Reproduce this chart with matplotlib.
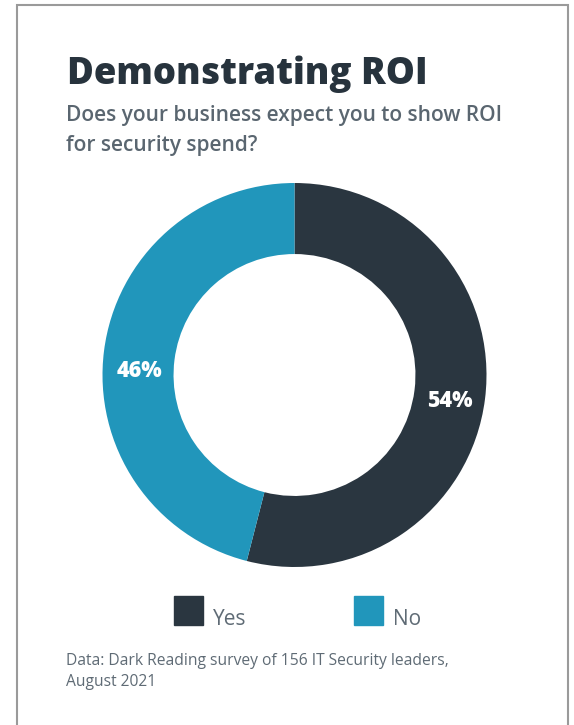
import matplotlib
matplotlib.use('Agg')
import matplotlib.pyplot as plt
from matplotlib.patches import Rectangle

labels = ['Yes', 'No']
values = [54, 46]
colors = ['#2a3640', '#2196bb']

title = 'Demonstrating ROI'
subtitle = ['Does your business expect you to show ROI', 'for security spend?']
source = ['Data: Dark Reading survey of 156 IT Security leaders,', 'August 2021']

plt.rcParams['font.family'] = ['Open Sans', 'DejaVu Sans']

W, H = 574, 725
fig = plt.figure(figsize=(W / 100, H / 100), dpi=100)

# frame, open at the bottom
fig.patches.append(Rectangle((17 / W, -0.05), 551 / W, 1.05 - 5 / H,
                             transform=fig.transFigure, fill=False,
                             edgecolor='#9a9a9a', lw=1.5))

fig.text(67 / W, 1 - 84 / H, title, fontsize=26.3, fontweight='heavy',
         color='#27333d', va='baseline')
for i, line in enumerate(subtitle):
    fig.text(66 / W, 1 - (121 + 30 * i) / H, line, fontsize=15,
             fontweight='semibold', color='#5a6670', va='baseline')
for i, line in enumerate(source):
    fig.text(66 / W, 1 - (665 + 21 * i) / H, line, fontsize=11.25,
             color='#5f6b75', va='baseline')

cx, cy, r = 294.5, 375, 192
ax = fig.add_axes([(cx - r) / W, 1 - (cy + r) / H, 2 * r / W, 2 * r / H])
wedges, texts, autotexts = ax.pie(
    values, colors=colors, startangle=90, counterclock=False,
    autopct='%d%%', pctdistance=0.815,
    wedgeprops=dict(width=0.37, edgecolor='none'),
    textprops=dict(color='white', fontsize=15.5, fontweight='heavy'))
# nudge labels a little lower, as in the original
autotexts[0].set_y(autotexts[0].get_position()[1] - 0.035)
autotexts[1].set_y(autotexts[1].get_position()[1] - 0.08)
ax.set_xlim(-1, 1)
ax.set_ylim(-1, 1)
ax.axis('off')

# legend
for i, (lab, col) in enumerate(zip(labels, colors)):
    x0 = 174 + i * 180
    fig.patches.append(Rectangle((x0 / W, 1 - 625 / H), 29 / W, 29 / H,
                                 transform=fig.transFigure, color=col))
    fig.text((x0 + 39) / W, 1 - 625 / H, lab, fontsize=15, color='#5f6b75',
             va='baseline')

fig.savefig('out.png', dpi=100)
